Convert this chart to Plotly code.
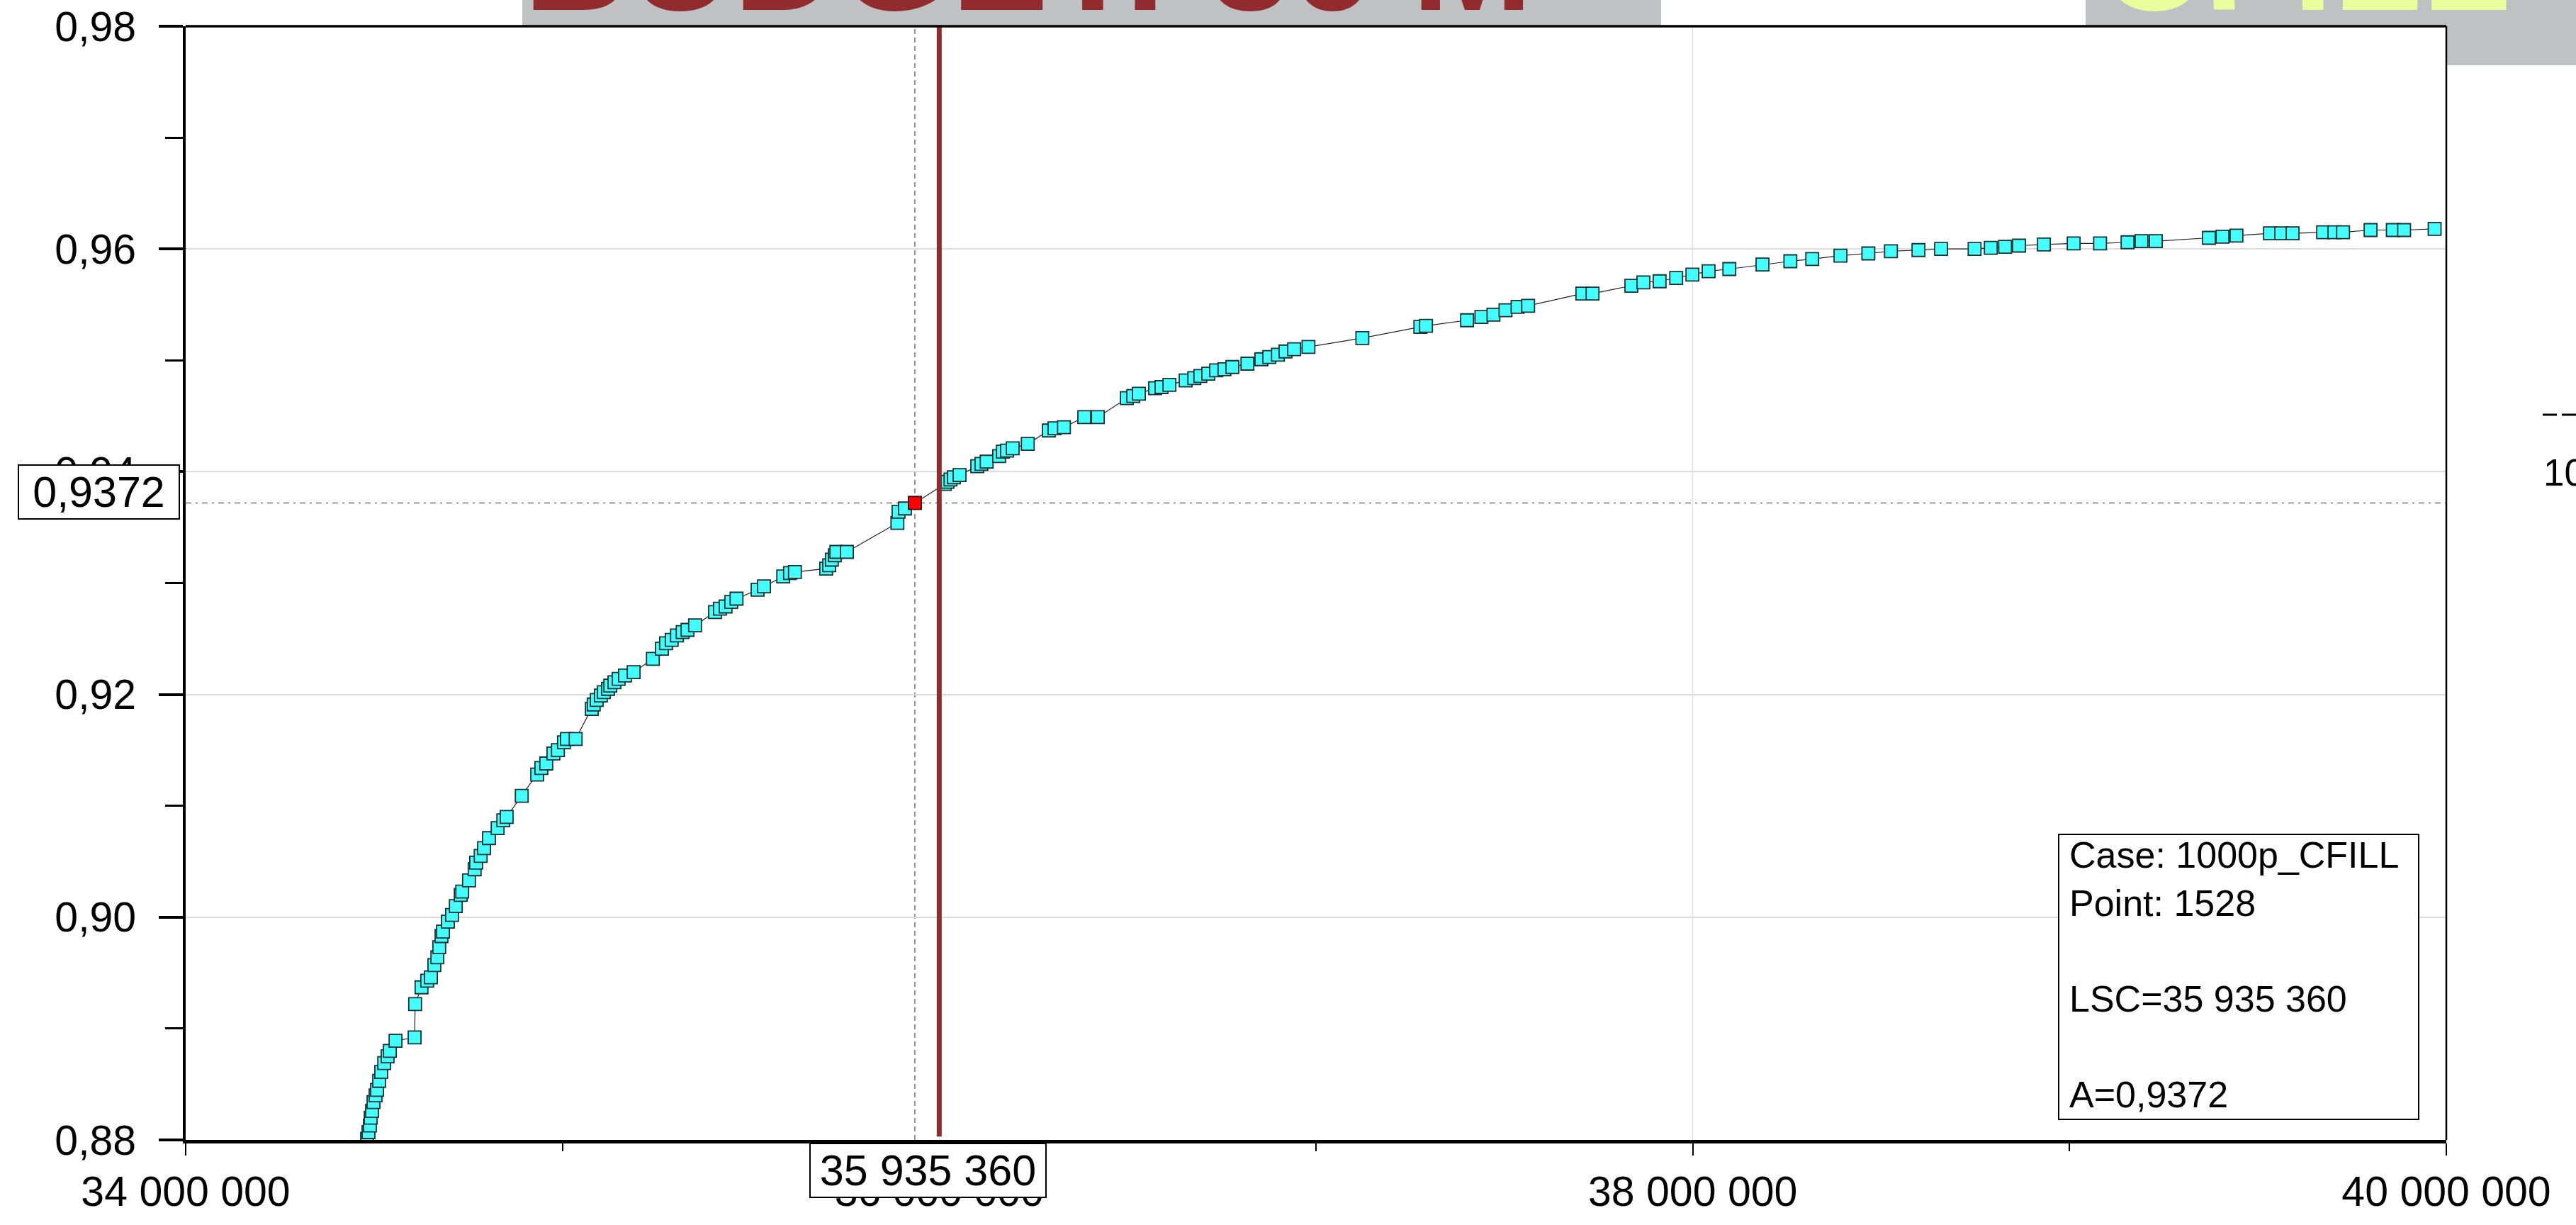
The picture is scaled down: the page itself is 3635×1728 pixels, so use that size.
import plotly.graph_objects as go

# ---------------- data ----------------
lsc = [
    34481500, 34485300, 34489000, 34491000, 34494700, 34498500, 34504000, 34508000,
    34513500, 34519000, 34527000, 34536000, 34542000, 34557000, 34607600, 34609000,
    34626000, 34641000, 34651000, 34660000, 34668000, 34673000, 34679000, 34683000,
    34696000, 34707000, 34717000, 34730000, 34734000, 34752000, 34767000, 34771000,
    34783000, 34792000, 34805000, 34828000, 34843000, 34852000, 34892000, 34933000,
    34944000, 34957000, 34976000, 34988000, 35004000, 35012000, 35035000, 35078000,
    35083000, 35091000, 35102000, 35110000, 35121000, 35127000, 35138000, 35149000,
    35166000, 35189000, 35240000, 35264000, 35275000, 35290000, 35304000, 35319000,
    35332000, 35352000, 35405000, 35418000, 35433000, 35448000, 35462000, 35518000,
    35535000, 35586000, 35604000, 35617000, 35700000, 35708000, 35715000, 35723000,
    35727000, 35755000, 35889000, 35892000, 35909000, 35935360, 36015000, 36022000,
    36030000, 36039000, 36054000, 36101000, 36112000, 36126000, 36159000, 36169000,
    36180000, 36195000, 36235000, 36291000, 36306000, 36331000, 36385000, 36421000,
    36498000, 36515000, 36530000, 36573000, 36590000, 36611000, 36654000, 36677000,
    36693000, 36714000, 36735000, 36757000, 36778000, 36818000, 36855000, 36876000,
    36899000, 36919000, 36942000, 36980000, 37123000, 37277000, 37292000, 37401000,
    37439000, 37471000, 37503000, 37535000, 37563000, 37707000, 37734000, 37837000,
    37869000, 37912000, 37956000, 37999000, 38042000, 38097000, 38185000, 38259000,
    38317000, 38392000, 38466000, 38526000, 38599000, 38659000, 38748000, 38791000,
    38829000, 38866000, 38932000, 39011000, 39081000, 39154000, 39191000, 39229000,
    39370000, 39406000, 39443000, 39532000, 39562000, 39592000, 39673000, 39703000,
    39726000, 39799000, 39858000, 39888000, 39969000,
]
availability = [
    0.8801, 0.8807, 0.8813, 0.8820, 0.8826, 0.8834, 0.8840, 0.8845,
    0.8853, 0.8861, 0.8869, 0.8875, 0.8880, 0.8889, 0.8892, 0.8922,
    0.8937, 0.8943, 0.8946, 0.8957, 0.8964, 0.8973, 0.8983, 0.8987,
    0.8996, 0.9002, 0.9010, 0.9020, 0.9023, 0.9033, 0.9043, 0.9049,
    0.9055, 0.9062, 0.9071, 0.9080, 0.9087, 0.9090, 0.9109, 0.9128,
    0.9134, 0.9138, 0.9147, 0.9150, 0.9157, 0.9160, 0.9160, 0.9187,
    0.9191, 0.9195, 0.9199, 0.9202, 0.9205, 0.9208, 0.9211, 0.9214,
    0.9217, 0.9220, 0.9232, 0.9241, 0.9246, 0.9249, 0.9253, 0.9256,
    0.9258, 0.9262, 0.9274, 0.9277, 0.9279, 0.9283, 0.9286, 0.9294,
    0.9297, 0.9306, 0.9309, 0.9310, 0.9313, 0.9316, 0.9321, 0.9325,
    0.9328, 0.9328, 0.9354, 0.9364, 0.9367, 0.9372, 0.9389, 0.9391,
    0.9393, 0.9395, 0.9397, 0.9405, 0.9407, 0.9409, 0.9414, 0.9418,
    0.9419, 0.9421, 0.9425, 0.9437, 0.9439, 0.9440, 0.9449, 0.9449,
    0.9466, 0.9468, 0.9470, 0.9475, 0.9476, 0.9478, 0.9482, 0.9484,
    0.9486, 0.9488, 0.9491, 0.9492, 0.9494, 0.9497, 0.9501, 0.9503,
    0.9505, 0.9508, 0.9510, 0.9512, 0.9520, 0.9530, 0.9531, 0.9536,
    0.9539, 0.9541, 0.9545, 0.9548, 0.9549, 0.9560, 0.9560, 0.9567,
    0.9570, 0.9571, 0.9574, 0.9577, 0.9580, 0.9582, 0.9586, 0.9589,
    0.9591, 0.9594, 0.9596, 0.9598, 0.9599, 0.9600, 0.9600, 0.9601,
    0.9602, 0.9603, 0.9604, 0.9605, 0.9605, 0.9606, 0.9607, 0.9607,
    0.9610, 0.9611, 0.9612, 0.9614, 0.9614, 0.9614, 0.9615, 0.9615,
    0.9615, 0.9617, 0.9617, 0.9617, 0.9618,
]

sel_lsc = 35935360
sel_a = 0.9372
budget = 36000000

x_ticks = [34000000, 36000000, 38000000, 40000000]
x_ticktext = ["34 000 000", "36 000 000", "38 000 000", "40 000 000"]
x_minor = [35000000, 37000000, 39000000]
y_ticks = [0.88, 0.90, 0.92, 0.94, 0.96, 0.98]
y_ticktext = ["0,88", "0,90", "0,92", "0,94", "0,96", "0,98"]
y_minor = [0.89, 0.91, 0.93, 0.95, 0.97]

case_name = "1000p_CFILL"
point_no = 1528
banner_left = "BUDGET: 36 M"
banner_right = "CFILL"

# ---------------- layout geometry ----------------
W, H = 3635, 1728
L, R, T, B = 262, 3452, 37, 1608


def px(xp):
    return (xp - L) / (R - L)


def py(yp):
    return (B - yp) / (B - T)


FONT = "Liberation Sans, Arial, sans-serif"
DARKRED = "#922B2E"
GRAY = "#C0C1C3"

fig = go.Figure()
fig.add_trace(go.Scatter(
    x=lsc, y=availability, mode="lines+markers",
    line=dict(color="#222222", width=1.2),
    marker=dict(symbol="square", size=18, color="#45FFFF",
                line=dict(color="#163232", width=1.8)),
    showlegend=False, hoverinfo="x+y",
))
fig.add_trace(go.Scatter(
    x=[sel_lsc], y=[sel_a], mode="markers",
    marker=dict(symbol="square", size=18, color="#FF0000",
                line=dict(color="#3a0000", width=1.5)),
    showlegend=False,
))

shapes = [
    # reference lines
    dict(type="line", xref="x", yref="paper", x0=sel_lsc, x1=sel_lsc, y0=0, y1=1,
         line=dict(color="#777777", width=1.5, dash="7px,5px"), layer="between"),
    dict(type="line", xref="paper", yref="y", x0=0, x1=1, y0=sel_a, y1=sel_a,
         line=dict(color="#777777", width=1.5, dash="8px,6px,3px,6px"), layer="between"),
    dict(type="line", xref="x", yref="paper", x0=budget, x1=budget, y0=0.003, y1=1,
         line=dict(color=DARKRED, width=7), layer="above"),
    # frame (top and right)
    dict(type="line", xref="paper", yref="paper", x0=0, x1=1, y0=1, y1=1,
         line=dict(color="black", width=3.5), layer="above"),
    dict(type="line", xref="paper", yref="paper", x0=1, x1=1, y0=0, y1=1,
         line=dict(color="black", width=2.5), layer="above"),
    # banners at top
    dict(type="rect", xref="paper", yref="paper", x0=px(737), x1=px(2344), y0=py(37), y1=py(-10),
         fillcolor=GRAY, line=dict(width=0), layer="below"),
    dict(type="rect", xref="paper", yref="paper", x0=px(2943), x1=px(3660), y0=py(37), y1=py(-10),
         fillcolor=GRAY, line=dict(width=0), layer="below"),
    dict(type="rect", xref="paper", yref="paper", x0=px(3452), x1=px(3660), y0=py(92), y1=py(37),
         fillcolor=GRAY, line=dict(width=0), layer="below"),
    # info box
    dict(type="rect", xref="paper", yref="paper", x0=px(2905), x1=px(3413), y0=py(1579), y1=py(1177),
         fillcolor="white", line=dict(color="black", width=2), layer="above"),
    # legend remnant on the right
    dict(type="line", xref="paper", yref="paper", x0=px(3588), x1=px(3660), y0=py(585), y1=py(585),
         line=dict(color="black", width=3, dash="20px,7px"), layer="above"),
]

annotations = [
    dict(text=banner_left, xref="paper", yref="paper", x=px(737), y=py(59),
         xanchor="left", yanchor="bottom", showarrow=False,
         font=dict(family=FONT, size=205, color=DARKRED, weight="bold")),
    dict(text=banner_right, xref="paper", yref="paper", x=px(2960), y=py(59),
         xanchor="left", yanchor="bottom", showarrow=False,
         font=dict(family=FONT, size=205, color="#EBFE9E", weight="bold")),
    dict(text="0,9372", xref="paper", yref="paper", x=px(139.5), y=py(694),
         xanchor="center", yanchor="middle", showarrow=False,
         width=225, height=74, borderpad=0, borderwidth=2, bordercolor="black",
         bgcolor="white", font=dict(family=FONT, size=61, color="black")),
    dict(text="35 935 360", xref="paper", yref="paper", x=px(1309.5), y=py(1651),
         xanchor="center", yanchor="middle", showarrow=False,
         width=331, height=74, borderpad=0, borderwidth=2, bordercolor="black",
         bgcolor="white", font=dict(family=FONT, size=61, color="black")),
    dict(text=f"Case: {case_name}<br>Point: {point_no}<br> <br>LSC=35 935 360<br> <br>A=0,9372",
         xref="paper", yref="paper", x=px(2918), y=py(1175),
         xanchor="left", yanchor="top", align="left", showarrow=False,
         font=dict(family=FONT, size=52, color="black")),
    dict(text=case_name, xref="paper", yref="paper", x=px(3587), y=py(666),
         xanchor="left", yanchor="middle", showarrow=False,
         font=dict(family=FONT, size=53, color="black")),
]

fig.update_layout(
    template="none",
    width=W, height=H, autosize=False,
    margin=dict(l=L, r=W - R, t=T, b=H - B, pad=0),
    paper_bgcolor="white", plot_bgcolor="white",
    showlegend=False,
    shapes=shapes, annotations=annotations,
    font=dict(family=FONT, color="black"),
    xaxis=dict(
        range=[34000000, 40000000], automargin=False,
        tickmode="array", tickvals=x_ticks, ticktext=x_ticktext,
        ticks="outside", ticklen=17, tickwidth=2, tickcolor="black",
        ticklabelstandoff=0,
        tickfont=dict(family=FONT, size=59, color="black"),
        showline=True, linewidth=5, linecolor="black", mirror=False,
        showgrid=True, gridcolor="#DDDDDD", gridwidth=1, zeroline=False,
        minor=dict(tickvals=x_minor, ticks="outside", ticklen=11, tickwidth=2,
                   tickcolor="black", showgrid=False),
    ),
    yaxis=dict(
        range=[0.88, 0.98], automargin=False,
        tickmode="array", tickvals=y_ticks, ticktext=y_ticktext,
        ticks="outside", ticklen=34, tickwidth=4, tickcolor="black",
        ticklabelstandoff=20,
        tickfont=dict(family=FONT, size=59, color="black"),
        showline=True, linewidth=4, linecolor="black", mirror=False,
        showgrid=True, gridcolor="#DCDCDC", gridwidth=2, zeroline=False,
        minor=dict(tickvals=y_minor, ticks="outside", ticklen=25, tickwidth=3,
                   tickcolor="black", showgrid=False),
    ),
)

fig.write_html(
    "out.html",
    config=dict(displayModeBar=False),
    post_script="document.body.style.margin='0';document.body.style.overflow='hidden';",
)
